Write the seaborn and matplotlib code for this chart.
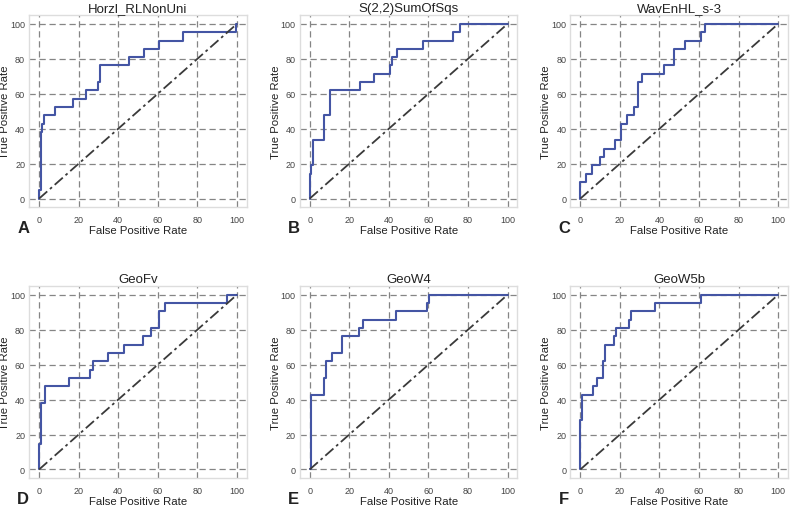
import matplotlib
matplotlib.use("Agg")
import numpy as np
import pandas as pd
import matplotlib.pyplot as plt
import seaborn as sns

# ── ROC step vertices (percent) ─────────────────────────────────────
titles = ["Horzl_RLNonUni", "S(2,2)SumOfSqs", "WavEnHL_s-3",
          "GeoFv", "GeoW4", "GeoW5b"]
letters = ["A", "B", "C", "D", "E", "F"]

fpr_a = [0, 0, 0.85, 1.5, 2.5, 8, 17, 23.5, 29.7, 31, 45.4, 53.2, 60.8, 72.6, 99.3, 100]
tpr_a = [0, 4.8, 38.1, 42.9, 47.6, 52.4, 57.1, 61.9, 66.7, 76.2, 81.0, 85.7, 90.5, 95.2, 100, 100]

fpr_b = [0, 0, 0.5, 1.5, 7.2, 10, 25.6, 32.7, 40.6, 41.4, 44.3, 57.2, 72.6, 76.1, 100]
tpr_b = [0, 14.3, 19.0, 33.3, 47.6, 61.9, 66.7, 71.4, 76.2, 81.0, 85.7, 90.5, 95.2, 100, 100]

fpr_c = [0, 0, 2.9, 5.8, 10, 11.9, 17.5, 20.3, 23.6, 27.3, 29, 31.2, 42.2, 47.3, 52.9, 60.8, 62.9, 100]
tpr_c = [0, 9.5, 14.3, 19.0, 23.8, 28.6, 33.3, 42.9, 47.6, 52.4, 66.7, 71.4, 76.2, 85.7, 90.5, 95.2, 100, 100]

fpr_d = [0, 0, 0.7, 2.9, 15, 25.7, 27, 35, 42.7, 52.5, 56.4, 60.5, 63.5, 95, 100]
tpr_d = [0, 14.3, 38.1, 47.6, 52.4, 57.1, 61.9, 66.7, 71.4, 76.2, 81.0, 90.5, 95.2, 100, 100]

fpr_e = [0, 0.8, 7.2, 8.2, 11.4, 16.3, 25, 27, 43.6, 59.3, 60.3, 100]
tpr_e = [0, 42.9, 52.4, 61.9, 66.7, 76.2, 81.0, 85.7, 90.5, 95.2, 100, 100]

fpr_f = [0, 0, 0.8, 6.6, 8.3, 11.2, 12.7, 17.1, 18.1, 24.4, 25.6, 37.5, 60.8, 100]
tpr_f = [0, 28.6, 42.9, 47.6, 52.4, 61.9, 71.4, 76.2, 81.0, 85.7, 90.5, 95.2, 100, 100]

chance = [0, 100]
ticks = [0, 20, 40, 60, 80, 100]

curves = [(fpr_a, tpr_a), (fpr_b, tpr_b), (fpr_c, tpr_c),
          (fpr_d, tpr_d), (fpr_e, tpr_e), (fpr_f, tpr_f)]

sns.set_theme(style="whitegrid", rc={
    "grid.linestyle": (0, (5, 3)),
    "grid.color": "#858585",
    "grid.linewidth": 0.9,
    "axes.edgecolor": "#dddddd",
    "axes.linewidth": 1.0,
    "xtick.major.size": 0,
    "ytick.major.size": 0,
})
plt.rcParams["font.family"] = ["Liberation Sans", "DejaVu Sans"]

fig, axes = plt.subplots(2, 3, figsize=(7.9, 5.06), dpi=100)
fig.subplots_adjust(left=0.037, right=0.9975, top=0.968, bottom=0.053,
                    wspace=0.244, hspace=0.41)

for ax, (fpr, tpr), title, letter in zip(axes.flat, curves, titles, letters):
    df = pd.DataFrame({"fpr": fpr, "tpr": tpr})
    sns.lineplot(data=df, x="fpr", y="tpr", ax=ax, sort=False, estimator=None,
                 drawstyle="steps-post", color="#4455a4", lw=1.5)
    sns.lineplot(x=chance, y=chance, ax=ax, color="#3a3a3a", lw=1.3,
                 linestyle=(0, (6, 2, 1.5, 2)))
    ax.set_xlim(-5, 105)
    ax.set_ylim(-5, 105)
    ax.set_xticks(ticks)
    ax.set_yticks(ticks)
    ax.tick_params(labelsize=6.5, colors="#444444")
    ax.tick_params(axis="x", pad=5.5)
    ax.tick_params(axis="y", pad=3)
    ax.set_title(title, fontsize=9.5, color="#222222", pad=3)
    ax.set_xlabel("False Positive Rate", fontsize=8.2, color="#222222", labelpad=1)
    ax.set_ylabel("True Positive Rate", fontsize=8.2, color="#222222", labelpad=0)
    ax.text(-0.055, -0.105, letter, transform=ax.transAxes, fontsize=12,
            fontweight="bold", color="#222222", ha="left", va="center")

plt.savefig("out.png", dpi=100)
plt.close()
